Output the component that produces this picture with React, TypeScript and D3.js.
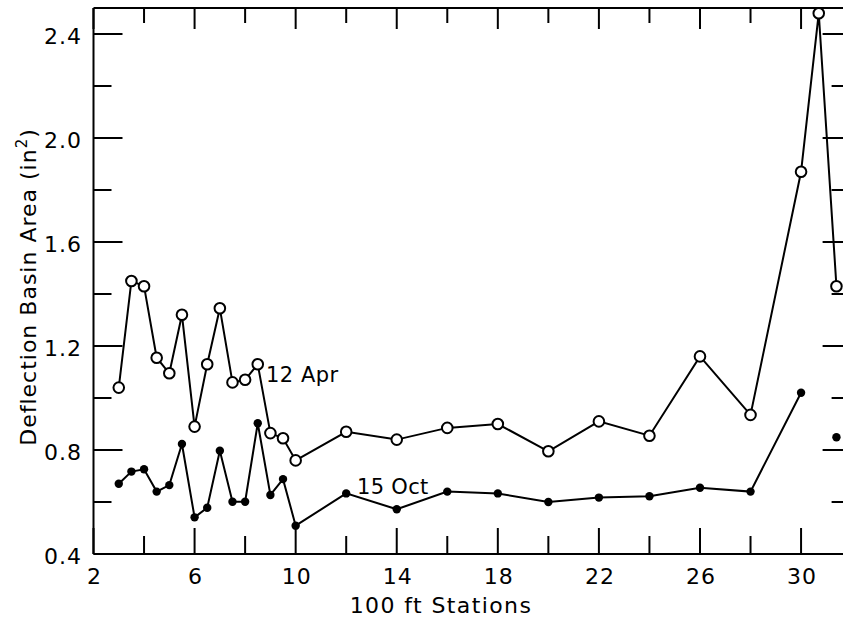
import React from "react";
import * as d3 from "d3";

const aprStations = [3, 3.5, 4, 4.5, 5, 5.5, 6, 6.5, 7, 7.5, 8, 8.5, 9, 9.5, 10, 12, 14, 16, 18, 20, 22, 24, 26, 28, 30, 30.7, 31.4];
const aprValues = [1.04, 1.45, 1.43, 1.155, 1.095, 1.32, 0.89, 1.13, 1.345, 1.06, 1.07, 1.13, 0.865, 0.845, 0.76, 0.87, 0.84, 0.885, 0.9, 0.795, 0.91, 0.855, 1.16, 0.935, 1.87, 2.48, 1.43];

const octStations = [3, 3.5, 4, 4.5, 5, 5.5, 6, 6.5, 7, 7.5, 8, 8.5, 9, 9.5, 10, 12, 14, 16, 18, 20, 22, 24, 26, 28, 30];
const octValues = [0.67, 0.717, 0.726, 0.64, 0.665, 0.823, 0.541, 0.578, 0.797, 0.601, 0.601, 0.903, 0.627, 0.688, 0.509, 0.633, 0.572, 0.64, 0.633, 0.6, 0.617, 0.622, 0.655, 0.64, 1.02];
const octExtraStations = [31.4];
const octExtraValues = [0.849];

const xTickValues = [2, 4, 6, 8, 10, 12, 14, 16, 18, 20, 22, 24, 26, 28, 30, 32];
const xLabelValues = [2, 6, 10, 14, 18, 22, 26, 30];
const yTickValues = [0.4, 0.6, 0.8, 1.0, 1.2, 1.4, 1.6, 1.8, 2.0, 2.2, 2.4];
const yLabelValues = [0.4, 0.8, 1.2, 1.6, 2.0, 2.4];

const W = 843;
const H = 619;
const FONT = "DejaVu Sans, sans-serif";

export default function App() {
  const x = d3.scaleLinear().domain([2, 32]).range([93.5, 851.6]);
  const y = d3.scaleLinear().domain([0.4, 2.5]).range([554, 8]);

  const line = d3
    .line<[number, number]>()
    .x((d) => x(d[0]))
    .y((d) => y(d[1]));

  const apr: [number, number][] = aprStations.map((s, i) => [s, aprValues[i]]);
  const oct: [number, number][] = octStations.map((s, i) => [s, octValues[i]]);
  const octExtra: [number, number][] = octExtraStations.map((s, i) => [s, octExtraValues[i]]);

  const isMajorX = (v: number) => xLabelValues.includes(v);
  const isMajorY = (v: number) => yLabelValues.some((l) => Math.abs(l - v) < 1e-6);

  const x0 = x(2);
  const x1 = x(32);
  const yb = y(0.4);
  const yt = y(2.5);

  return (
    <svg
      width={W}
      height={H}
      style={{ position: "absolute", left: 0, top: 0, background: "#fff" }}
      fontFamily={FONT}
    >
      <rect x={0} y={0} width={W} height={H} fill="#fff" />
      {/* frame */}
      <g stroke="#000" strokeWidth={2} fill="none">
        <line x1={x0} y1={yt} x2={x1} y2={yt} />
        <line x1={x0} y1={yb} x2={x1} y2={yb} />
        <line x1={x0} y1={yt} x2={x0} y2={yb} />
        <line x1={x1} y1={yt} x2={x1} y2={yb} />
      </g>
      {/* ticks */}
      <g stroke="#000" strokeWidth={2}>
        {xTickValues.map((v) => (
          <g key={"xt" + v}>
            <line x1={x(v)} x2={x(v)} y1={yb} y2={yb - (isMajorX(v) ? 26 : 18)} />
            <line x1={x(v)} x2={x(v)} y1={yt} y2={yt + (isMajorX(v) ? 21 : 15)} />
          </g>
        ))}
        {yTickValues.map((v) => (
          <g key={"yt" + v}>
            <line x1={x0} x2={x0 + (isMajorY(v) ? 29 : 18)} y1={y(v)} y2={y(v)} />
            <line x1={x1} x2={x1 - (isMajorY(v) ? 29 : 20)} y1={y(v)} y2={y(v)} />
          </g>
        ))}
      </g>
      {/* tick labels */}
      <g fontSize={22} letterSpacing={1} fill="#000">
        {xLabelValues.map((v) => (
          <text key={"xl" + v} x={x(v) + 1} y={584} textAnchor="middle">
            {String(v)}
          </text>
        ))}
        {yLabelValues.map((v) => (
          <text key={"yl" + v} x={82} y={y(v) + 10} textAnchor="end">
            {d3.format(".1f")(v)}
          </text>
        ))}
      </g>
      {/* axis titles */}
      <text x={441} y={613} fontSize={22} letterSpacing={1.4} textAnchor="middle" fill="#000">
        100 ft Stations
      </text>
      <text
        transform={`translate(36, ${287}) rotate(-90)`}
        fontSize={22}
        letterSpacing={1}
        textAnchor="middle"
        fill="#000"
      >
        Deflection Basin Area (in
        <tspan dy={-9} fontSize={15}>2</tspan>
        <tspan dy={9}>)</tspan>
      </text>
      {/* series */}
      <path d={line(oct) || ""} fill="none" stroke="#000" strokeWidth={2} />
      <path d={line(apr) || ""} fill="none" stroke="#000" strokeWidth={2} />
      {oct.concat(octExtra).map((d, i) => (
        <circle key={"o" + i} cx={x(d[0])} cy={y(d[1])} r={4.2} fill="#000" />
      ))}
      {apr.map((d, i) => (
        <circle key={"a" + i} cx={x(d[0])} cy={y(d[1])} r={5.3} fill="#fff" stroke="#000" strokeWidth={2} />
      ))}
      {/* series labels */}
      <text x={266} y={382} fontSize={21} letterSpacing={0.5} fill="#000">
        12 Apr
      </text>
      <text x={357} y={494} fontSize={21} letterSpacing={0.3} fill="#000">
        15 Oct
      </text>
    </svg>
  );
}
